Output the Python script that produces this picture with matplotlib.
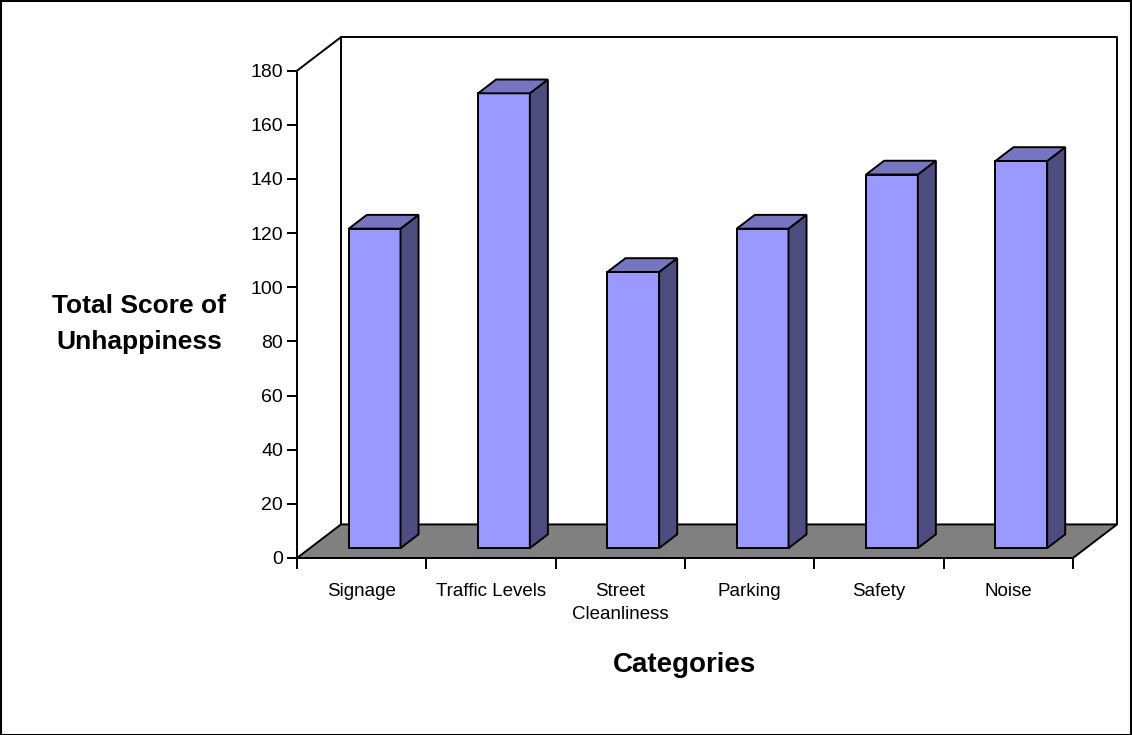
import matplotlib
matplotlib.use("Agg")
import matplotlib.pyplot as plt
from matplotlib.patches import Polygon, Rectangle

plt.rcParams['font.family'] = ['Liberation Sans', 'DejaVu Sans']

categories = ["Signage", "Traffic Levels", "Street\nCleanliness", "Parking", "Safety", "Noise"]
scores = [118, 168, 102, 118, 138, 143]
y_ticks = [0, 20, 40, 60, 80, 100, 120, 140, 160, 180]

front_col = '#9999FF'
top_col = '#7676C0'
side_col = '#4D4D80'
floor_col = '#808080'
lw = 1.4

W, H = 1132, 735
fig = plt.figure(figsize=(W / 100, H / 100), dpi=100)
ax = fig.add_axes([297 / W, 1 - 558 / H, (1073 - 297) / W, (558 - 70.7) / H])
ax.set_xlim(0, len(categories))
ax.set_ylim(0, 180)

# depth of the 3d box in data units
DX = 0.34
DY = 12.4

def off(x, y, d):
    return (x + DX * d, y + DY * d)

n = len(categories)
ymax = 180

# back wall outline and left wall top edge
ax.plot([off(0, 0, 1)[0], off(0, ymax, 1)[0], off(n, ymax, 1)[0], off(n, 0, 1)[0]],
        [off(0, 0, 1)[1], off(0, ymax, 1)[1], off(n, ymax, 1)[1], off(n, 0, 1)[1]],
        color='black', lw=lw, clip_on=False, zorder=1)
ax.plot([0, off(0, ymax, 1)[0]], [ymax, off(0, ymax, 1)[1]], color='black', lw=lw,
        clip_on=False, zorder=1)

# floor
floor = Polygon([off(0, 0, 0), off(n, 0, 0), off(n, 0, 1), off(0, 0, 1)], closed=True,
                facecolor=floor_col, edgecolor='black', lw=lw, clip_on=False, zorder=2)
ax.add_patch(floor)

bw = 0.40
d0, d1 = 0.295, 0.705
for i, v in enumerate(scores):
    xc = i + 0.5
    x0 = xc - bw / 2 + DX * d0
    x1 = xc + bw / 2 + DX * d0
    y0 = DY * d0
    y1 = v + DY * d0
    ddx = DX * (d1 - d0)
    ddy = DY * (d1 - d0)
    front = Polygon([(x0, y0), (x1, y0), (x1, y1), (x0, y1)], closed=True,
                    facecolor=front_col, edgecolor='black', lw=lw, clip_on=False, zorder=3)
    top = Polygon([(x0, y1), (x1, y1), (x1 + ddx, y1 + ddy), (x0 + ddx, y1 + ddy)], closed=True,
                  facecolor=top_col, edgecolor='black', lw=lw, clip_on=False, zorder=3)
    side = Polygon([(x1, y0), (x1 + ddx, y0 + ddy), (x1 + ddx, y1 + ddy), (x1, y1)], closed=True,
                   facecolor=side_col, edgecolor='black', lw=lw, clip_on=False, zorder=3)
    ax.add_patch(front)
    ax.add_patch(side)
    ax.add_patch(top)

for s in ['top', 'right']:
    ax.spines[s].set_visible(False)
for s in ['left', 'bottom']:
    ax.spines[s].set_linewidth(lw)
    ax.spines[s].set_zorder(4)

ax.set_facecolor('none')
ax.set_yticks(y_ticks)
ax.set_yticklabels([str(t) for t in y_ticks], fontsize=14)
ax.tick_params(axis='y', direction='out', length=7, width=lw, pad=3)
ax.set_xticks(range(n + 1))
ax.set_xticklabels([])
ax.tick_params(axis='x', which='major', direction='out', length=8, width=lw)
ax.set_xticks([i + 0.5 for i in range(n)], minor=True)
ax.set_xticklabels(categories, minor=True, fontsize=13.5, linespacing=1.45, va='top')
ax.tick_params(axis='x', which='minor', length=0, pad=18)

fig.text(139 / W, 1 - 324 / H, "Total Score of\nUnhappiness", fontsize=19, fontweight='bold',
         ha='center', va='center', linespacing=1.6)
fig.text(685 / W, 1 - 672 / H, "Categories", fontsize=20, fontweight='bold',
         ha='center', va='baseline')

fig.patches.append(Rectangle((0.5 / W, 0.5 / H), 1 - 1.5 / W, 1 - 1.5 / H, transform=fig.transFigure,
                             fill=False, edgecolor='black', lw=1.5))

fig.savefig('out.png', dpi=100)
